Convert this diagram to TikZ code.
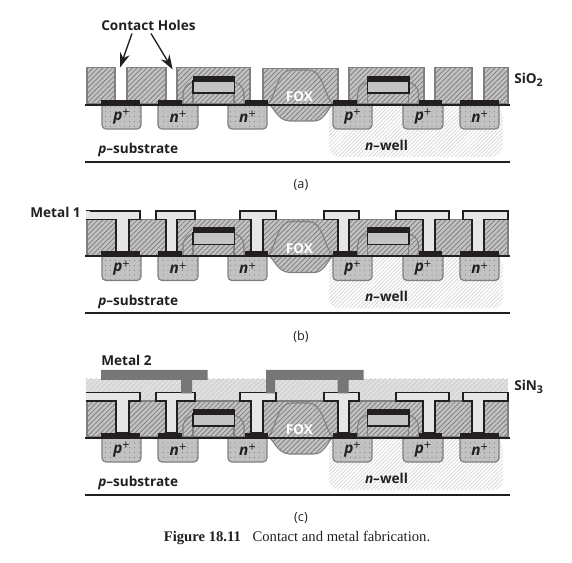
\documentclass[tikz,border=0pt]{standalone}
\usepackage{fontspec}
\setmainfont{Liberation Serif}
\setsansfont{Open Sans}
\usetikzlibrary{patterns.meta,arrows.meta}

\definecolor{inkdark}{HTML}{231F20}
\definecolor{oxideline}{HTML}{808080}
\definecolor{oxidehatch}{HTML}{808080}
\definecolor{oxidefill}{HTML}{C2C2C2}
\definecolor{difffill}{HTML}{C2C2C2}
\definecolor{wellhatch}{HTML}{D2D2D2}
\definecolor{nitfill}{HTML}{E0E0E0}
\definecolor{nithatch}{HTML}{CACACA}
\definecolor{metalfill}{HTML}{E6E6E6}
\definecolor{polyfill}{HTML}{C4C4C4}
\definecolor{metaltwo}{HTML}{777777}

\tikzset{
	oxide/.style={draw=oxideline, line width=0.8pt, preaction={fill=oxidefill},
		pattern={Lines[angle=45,distance=2.6pt,line width=0.6pt]}, pattern color=oxidehatch},
	diffusion/.style={draw=oxideline, line width=0.9pt, rounded corners=3pt, preaction={fill=difffill},
		pattern={Dots[radius=0.35pt,distance=3.6pt]}, pattern color=black!60},
	nwell/.style={rounded corners=8pt, pattern={Lines[angle=45,distance=2pt,line width=0.5pt]}, pattern color=wellhatch},
	nitride/.style={preaction={fill=nitfill},
		pattern={Lines[angle=45,distance=2.6pt,line width=0.5pt]}, pattern color=nithatch},
	metalone/.style={draw=inkdark, line width=0.9pt, fill=metalfill},
	wire/.style={line width=1.5pt, draw=inkdark},
	lbl/.style={font=\sffamily\bfseries\fontsize{10.2}{12}\selectfont, text=inkdark, inner sep=0pt},
	small/.style={font=\sffamily\fontsize{9.5}{11}\selectfont, text=inkdark, inner sep=0pt},
	callout/.style={-{Stealth[length=11pt,width=7.5pt]}, line width=1pt, draw=inkdark}
}

\newcommand{\dopant}[1]{{\fontsize{11.5}{12}\selectfont\itshape #1}\raisebox{2.6pt}{\fontsize{9.5}{10}\selectfont\mdseries +}}
\newcommand{\lowered}[1]{\raisebox{-2pt}{\fontsize{8}{9}\selectfont #1}}

% Everything below the oxide top that all three panels share
\newcommand{\drawdevices}{
	% Well and diffusions
	\path[nwell] (329,105) -- (329,157) -- (503,157) -- (503,105) -- cycle;
	\foreach \xl/\xr in {102/141,158/198,228/267,333/372,403/443,460/499}
		\draw[diffusion] (\xl,105) -- (\xl,129) -- (\xr,129) -- (\xr,105);
	\foreach \xc/\txt [count=\i] in {121.5/p,178/n,247.5/n,352.5/p,423/p,479.5/n}
		\node[lbl] (dop\i) at (\xc,116.5) {\dopant{\txt}};

	% Field oxide
	\draw[oxide] (268,104) .. controls (274,106) and (277,121) .. (290,121) -- (314,121)
		.. controls (324,121) and (327,110) .. (333,104)
		.. controls (325,98) and (323,70) .. (309,70) -- (291,70)
		.. controls (277,70) and (276,96) .. cycle;
	\node[lbl, text=white] (fox) at (299.5,97) {FOX};

	% Gates with their spacers
	\foreach \xs in {0,174.5} {
		\draw[oxideline, line width=0.8pt, rounded corners=9pt] (183+\xs,104) -- (183+\xs,82) -- (244+\xs,82) -- (244+\xs,104);
		\draw[oxideline, line width=0.8pt] (193+\xs,93) -- (193+\xs,104) (234+\xs,93) -- (234+\xs,104);
		\draw[inkdark, line width=0.9pt, fill=polyfill] (193+\xs,81) rectangle (234.5+\xs,93);
		\fill[inkdark] (192.5+\xs,76) rectangle (235+\xs,82);
	}

	% Contacts
	\foreach \xl/\xr in {101/140,158/182,245/268,333/357,419/442,460/499}
		\fill[inkdark] (\xl,100) rectangle (\xr,105);

	% Surface and bottom lines
	\draw[wire] (85,105) -- (510,105);
	\draw[wire] (85,162) -- (510,162);

	% Labels
	\node[lbl, anchor=west] (psub) at (98,150) {{\itshape p}–substrate};
	\node[lbl] (well) at (386.5,145) {{\itshape n}–well};
}

% Oxide and filled contact holes of panels (b) and (c)
\newcommand{\drawmetalone}{
	\draw[oxide] (87,68) rectangle (508,104);
	\draw[metalone] (86,59.5) -- (140,59.5) -- (140,68) -- (129,68) -- (129,100) -- (116,100) -- (116,68) -- (86,68);
	\fill[metalfill] (85.5,60) rectangle (90,67.5);
	\foreach \cl/\cr/\sl/\sr in {156/195/166/177,240/276/251/263,324/359/338/349,396/449/423/435,463/508/472/484}
		\draw[metalone] (\cl,59.5) -- (\cr,59.5) -- (\cr,68) -- (\sr,68) -- (\sr,100) -- (\sl,100) -- (\sl,68) -- (\cl,68) -- cycle;
}

\begin{document}
\begin{tikzpicture}[x=0.75pt, y=-0.75pt]
	\useasboundingbox (0,0) rectangle (572,563);

	% Panel (a)
	\begin{scope}[name prefix=a-]
		\foreach \xl/\xr in {87/115,127/166,177/250,349/424,435/472,484/508}
			\draw[oxide] (\xl,67.5) rectangle (\xr,104);
		\draw[oxide] (263,68.5) rectangle (338,104);
		\drawdevices
		\node[lbl] (holes) at (148.5,25) {Contact Holes};
		\coordinate (holeL) at (120,67.5);
		\coordinate (holeR) at (172.7,69.5);
		\draw[callout] (holes.south -| 132,0) ++(0,3) -- (holeL);
		\draw[callout] (holes.south -| 151,0) ++(0,3) -- (holeR);
		\node[lbl, anchor=west] (sio) at (514,80) {SiO\lowered{2}};
		\node[small] (cap) at (301,185) {(a)};
	\end{scope}

	% Panel (b)
	\begin{scope}[shift={(0,151.5)}, name prefix=b-]
		\drawmetalone
		\drawdevices
		\node[lbl, anchor=east] (mone) at (81,60.5) {Metal 1};
		\node[small] (cap) at (301,185) {(b)};
	\end{scope}

	% Panel (c)
	\begin{scope}[shift={(0,333)}, name prefix=c-]
		\fill[nitride] (85.5,46) rectangle (508,68);
		\drawmetalone
		\drawdevices
		% Metal 2
		\fill[metaltwo] (101,37) rectangle (207.5,47) (181,47) rectangle (192,60.5);
		\fill[metaltwo] (266,37) rectangle (363.5,47) (266,47) rectangle (275,60.5) (337.5,47) rectangle (348.5,60.5);
		\node[lbl, anchor=west] (mtwo) at (101,27) {Metal 2};
		\node[lbl, anchor=west] (sin) at (514,54) {SiN\lowered{3}};
		\node[small] (cap) at (301,185) {(c)};
	\end{scope}

	% Caption
	\node[inner sep=0pt, font=\fontsize{11}{13}\selectfont, text=inkdark] (fig) at (297,538) {\textbf{Figure 18.11}\hspace{6pt} Contact and metal fabrication.};
\end{tikzpicture}
\end{document}
